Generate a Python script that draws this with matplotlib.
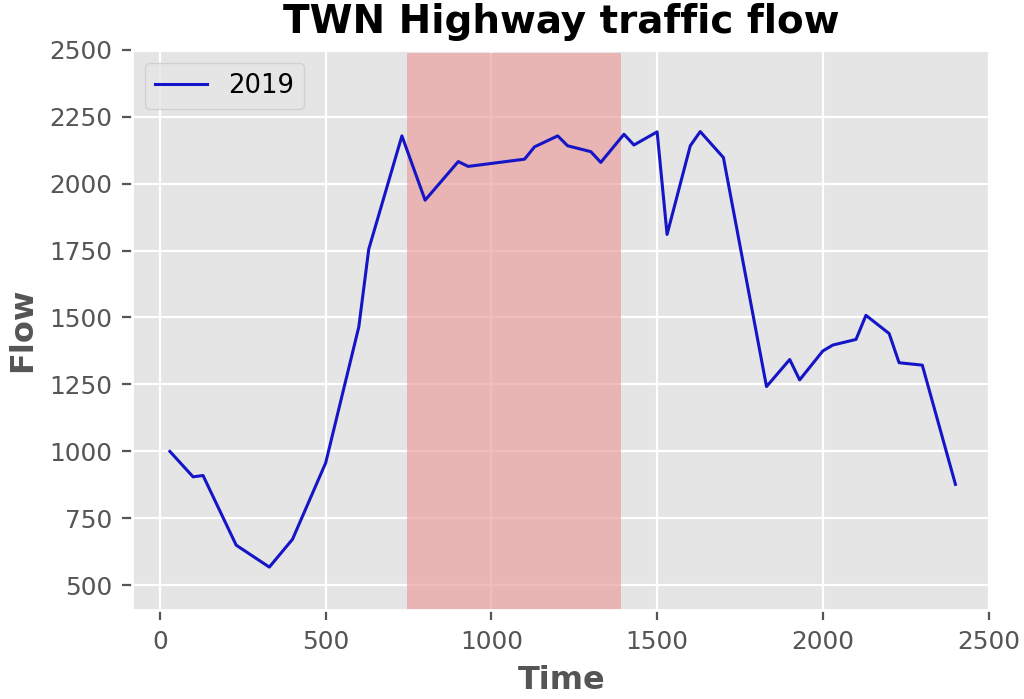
import matplotlib
matplotlib.use("Agg")
import matplotlib.pyplot as plt

plt.style.use("ggplot")

time = [30, 100, 130, 230, 330, 400, 500, 600, 630, 730, 800, 900, 930, 1100,
        1130, 1200, 1230, 1300, 1330, 1400, 1430, 1500, 1530, 1600, 1630, 1700,
        1830, 1900, 1930, 2000, 2030, 2100, 2130, 2200, 2230, 2300, 2400]
flow = [1000, 905, 910, 650, 568, 672, 957, 1465, 1755, 2178, 1938, 2082, 2064,
        2091, 2137, 2178, 2141, 2119, 2079, 2184, 2144, 2193, 1810, 2141, 2194,
        2097, 1242, 1343, 1267, 1375, 1397, 1418, 1508, 1440, 1331, 1322, 877]
series_label = "2019"
span_start, span_end = 745, 1390

fig = plt.figure(figsize=(5.12, 3.495), dpi=200)
ax = fig.add_axes([0.129, 0.127, 0.839, 0.802])

ax.axvspan(span_start, span_end, ymin=0, ymax=0.994, color="#eaa0a0", alpha=0.7, lw=0, zorder=1)
ax.plot(time, flow, color="#1515c8", lw=1.1, label=series_label, zorder=3)

ax.set_xlim(-84, 2508)
ax.set_ylim(407, 2493)
ax.set_yticks([500, 750, 1000, 1250, 1500, 1750, 2000, 2250, 2500])
ax.set_xticks([0, 500, 1000, 1500, 2000, 2500])
ax.tick_params(labelsize=8.9, colors="#555555")

ax.set_title("TWN Highway traffic flow", fontsize=14, fontweight="bold", color="black", pad=6)
ax.set_xlabel("Time", fontsize=11.5, fontweight="bold", color="#555555", labelpad=4)
ax.set_ylabel("Flow", fontsize=11.5, fontweight="bold", color="#555555", labelpad=4)
leg = ax.legend(loc="upper left", fontsize=9.3)

fig.savefig("out.png", dpi=200)
